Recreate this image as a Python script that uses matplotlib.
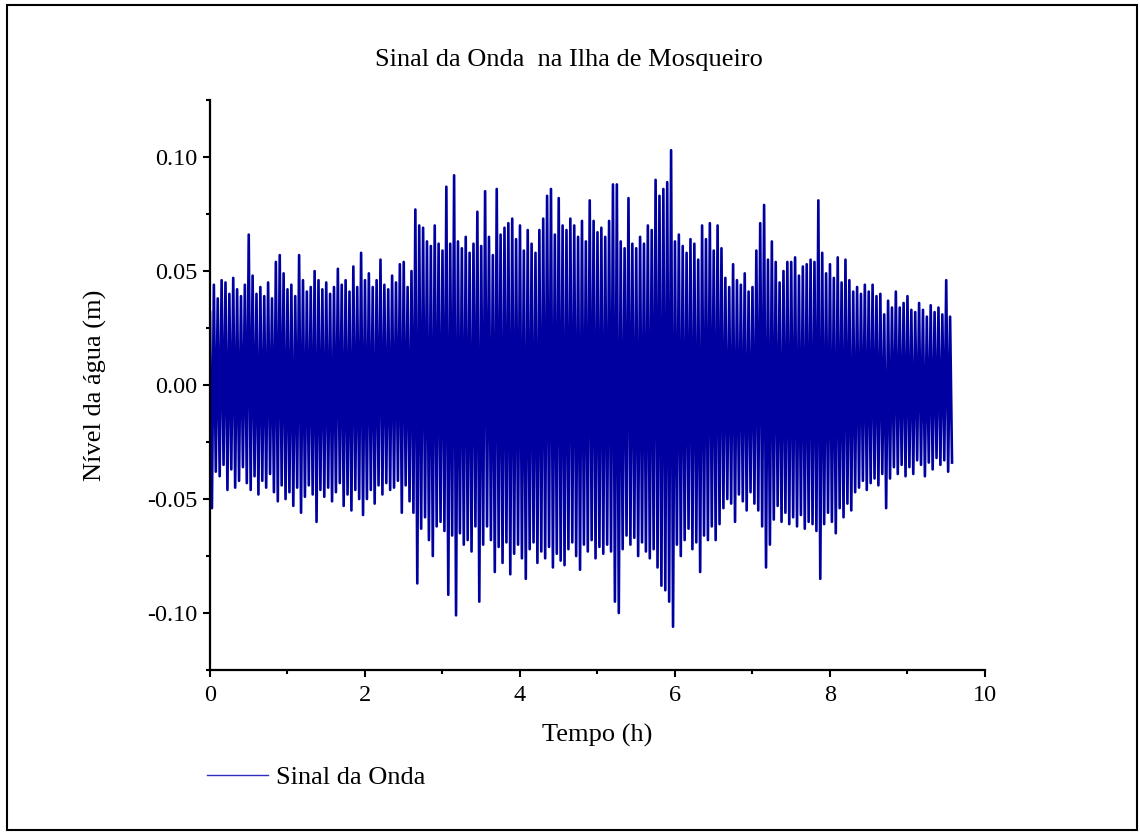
import numpy as np
import matplotlib
matplotlib.use('Agg')
import matplotlib.pyplot as plt
from matplotlib.patches import Rectangle
from matplotlib.lines import Line2D

plt.rcParams['font.family'] = ['Liberation Serif', 'DejaVu Serif']
plt.rcParams['axes.unicode_minus'] = False

# picos, um par (crista, cavado) a cada 0.05 h, em cm
tempo_h = np.round(np.arange(0, 9.6, 0.05), 2)

crista_cm = [
    3.2, 4.4, 3.8, 4.6, 4.5, 4.0, 4.7, 4.2, 3.9, 4.4,
    6.6, 4.8, 4.0, 4.3, 3.9, 4.5, 3.8, 5.4, 5.7, 4.9,
    4.2, 4.4, 3.9, 5.7, 4.6, 4.1, 4.3, 5.0, 4.6, 4.2,
    4.5, 4.0, 4.3, 5.1, 4.4, 4.6, 4.1, 5.2, 4.3, 5.8,
    4.6, 4.9, 4.3, 4.6, 5.5, 4.4, 4.2, 4.8, 4.5, 5.3,
    5.4, 4.3, 5.0, 7.7, 7.0, 6.9, 6.3, 6.1, 7.0, 6.2,
    5.9, 8.7, 6.2, 9.2, 6.3, 6.0, 6.5, 5.8, 6.2, 7.6,
    6.1, 8.5, 6.5, 5.7, 8.6, 6.6, 6.9, 7.1, 7.3, 6.4,
    7.0, 5.9, 6.8, 6.2, 5.8, 6.8, 7.3, 8.3, 8.6, 6.6,
    8.2, 7.0, 6.8, 7.3, 7.0, 6.5, 7.2, 6.3, 8.1, 7.2,
    6.7, 6.9, 6.5, 7.2, 8.8, 8.8, 6.3, 6.0, 8.2, 6.2,
    6.0, 6.5, 6.2, 7.0, 6.8, 9.0, 8.3, 8.6, 8.9, 10.3,
    6.3, 6.6, 6.1, 5.8, 6.4, 6.2, 5.5, 7.0, 6.4, 7.1,
    5.9, 7.0, 6.0, 4.7, 4.3, 5.3, 4.6, 4.4, 4.9, 4.1,
    4.3, 5.9, 7.1, 7.9, 5.5, 6.3, 5.4, 4.5, 5.0, 5.4,
    5.4, 5.6, 4.8, 5.2, 5.3, 5.5, 5.4, 8.1, 5.8, 4.9,
    5.3, 4.7, 5.6, 4.5, 5.5, 4.6, 4.1, 4.3, 4.0, 4.4,
    4.1, 4.4, 3.9, 4.0, 3.1, 3.7, 3.4, 4.1, 3.4, 3.6,
    3.9, 3.3, 3.2, 3.6, 3.3, 3.0, 3.5, 3.2, 3.4, 3.1, 4.6, 3.0,
]

cavado_cm = [
    -5.4, -3.8, -4.0, -3.5, -4.6, -3.7, -4.5, -4.2, -3.6, -4.3,
    -4.6, -4.0, -4.8, -4.2, -4.5, -3.9, -4.7, -5.1, -4.4, -5.0,
    -4.7, -5.3, -4.5, -5.6, -4.9, -4.4, -4.8, -6.0, -4.6, -4.9,
    -4.5, -5.1, -4.7, -4.3, -5.3, -4.8, -5.5, -4.6, -5.0, -5.7,
    -5.0, -4.6, -5.2, -4.4, -4.8, -4.3, -4.6, -4.5, -4.2, -5.6,
    -4.4, -5.1, -5.6, -8.7, -6.3, -5.8, -6.8, -7.5, -6.2, -6.0,
    -6.4, -9.2, -6.6, -10.1, -6.5, -7.0, -6.8, -7.3, -6.2, -9.5,
    -7.0, -6.2, -6.8, -8.2, -7.1, -7.8, -6.9, -8.3, -7.4, -7.0,
    -7.6, -8.5, -7.2, -6.9, -7.8, -7.3, -7.6, -7.1, -8.0, -7.4,
    -7.7, -7.9, -7.2, -6.9, -7.5, -8.1, -7.0, -7.3, -6.8, -7.6,
    -7.1, -7.4, -7.0, -7.3, -9.5, -10.0, -7.2, -6.6, -7.0, -6.7,
    -7.5, -6.9, -7.3, -7.6, -7.2, -8.0, -8.8, -9.0, -9.5, -10.6,
    -7.0, -7.5, -6.8, -6.3, -7.2, -6.9, -8.2, -6.6, -6.8, -6.2,
    -6.8, -6.1, -5.4, -5.0, -5.2, -6.0, -4.8, -5.1, -5.5, -4.7,
    -5.2, -5.5, -6.2, -8.0, -7.0, -5.9, -5.3, -6.0, -5.6, -6.1,
    -5.8, -6.2, -5.7, -6.3, -6.0, -6.1, -6.4, -8.5, -6.1, -5.6,
    -6.0, -6.5, -5.4, -5.8, -5.2, -5.5, -4.7, -4.5, -4.2, -4.6,
    -4.3, -4.1, -4.4, -3.9, -5.4, -4.1, -3.6, -3.9, -3.5, -4.0,
    -3.6, -3.9, -3.3, -3.5, -4.0, -3.4, -3.7, -3.2, -3.5, -3.3, -3.8, -3.4,
]

# monta o sinal: crista no instante, cavado meio passo depois
t_sinal = np.column_stack([tempo_h, tempo_h + 0.025]).ravel()
nivel_m = np.column_stack([crista_cm, cavado_cm]).ravel() / 100.0

cor = '#0000A0'

fig = plt.figure(figsize=(11.4, 8.33), dpi=100)
ax = fig.add_axes([0.1842, 0.1956, 0.6798, 0.6843])

ax.plot(t_sinal, nivel_m, color=cor, lw=1.9)

ax.set_xlim(0, 10)
ax.set_ylim(-0.125, 0.125)
ax.set_xticks([0, 2, 4, 6, 8, 10])
ax.set_xticks([1, 3, 5, 7, 9], minor=True)
ax.set_yticks([-0.10, -0.05, 0.0, 0.05, 0.10])
ax.set_yticks([-0.125, -0.075, -0.025, 0.025, 0.075, 0.125], minor=True)
ax.set_yticklabels(['-0.10', '-0.05', '0.00', '0.05', '0.10'])

for s in ['top', 'right']:
    ax.spines[s].set_visible(False)
for s in ['left', 'bottom']:
    ax.spines[s].set_linewidth(1.6)

ax.tick_params(which='major', direction='out', length=5, width=1.5, labelsize=17.5)
ax.tick_params(which='minor', direction='out', length=3, width=1.5)
ax.tick_params(axis='x', pad=6)
ax.tick_params(axis='y', pad=4)

ax.set_xlabel('Tempo (h)', fontsize=19)
ax.xaxis.set_label_coords(0.5, -0.094)
ax.set_ylabel('Nível da água (m)', fontsize=19)
ax.yaxis.set_label_coords(-0.133, 0.5)

fig.text(0.499, 0.928, 'Sinal da Onda  na Ilha de Mosqueiro', fontsize=19,
         ha='center', va='center')

handle = Line2D([], [], color='#3030C0', lw=1.0)
fig.legend([handle], ['Sinal da Onda'], loc='center left',
           bbox_to_anchor=(207 / 1140, 1 - 777 / 833),
           frameon=False, fontsize=19, handlelength=2.3, handletextpad=0.3,
           borderpad=0, borderaxespad=0)

fig.add_artist(Rectangle((0.006, 0.004), 0.991, 0.990, transform=fig.transFigure,
                         fill=False, edgecolor='black', linewidth=1.5))

fig.savefig('out.png', dpi=100)
